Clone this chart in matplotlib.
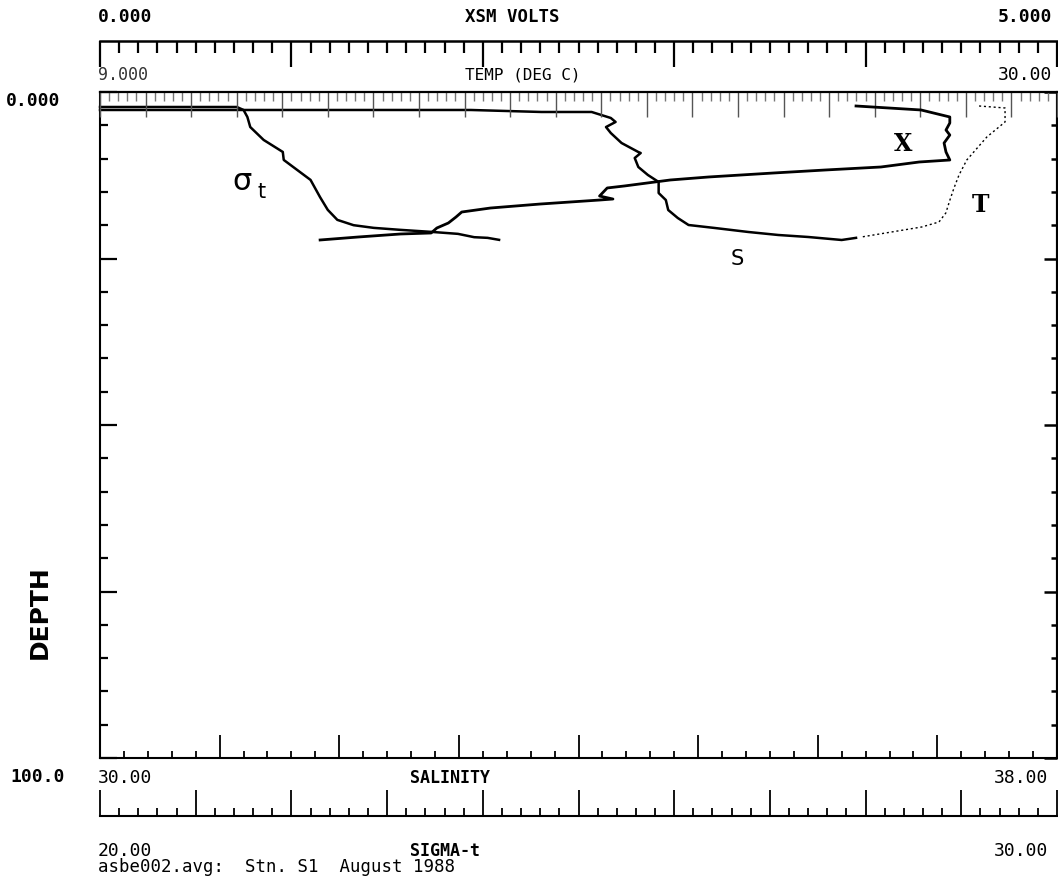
#ctd profile plot: xsm volts, temperature, salinity and sigma-t against depth
import matplotlib
matplotlib.use("Agg")
import matplotlib.pyplot as plt
from matplotlib.ticker import MultipleLocator

# sigma-t profile
sigma_depth = [2.25, 2.25, 2.7, 3.75, 5.26, 7.2, 9.0, 10.2, 11.7, 13.2, 15.8, 17.7,
               19.2, 20.0, 20.4, 20.7, 21.0, 21.3, 21.8, 21.9, 22.2]
sigma_t = [20.00, 21.43, 21.50, 21.54, 21.57, 21.71, 21.91, 21.92, 22.06, 22.20, 22.30, 22.38,
           22.48, 22.65, 22.86, 23.14, 23.46, 23.74, 23.91, 24.05, 24.17]

# salinity profile
sal_depth = [2.7, 2.7, 3.0, 3.0, 3.9, 4.5, 5.26, 6.16, 7.66, 9.01, 9.16, 9.91, 11.26, 12.46,
             13.51, 15.17, 16.22, 17.72, 18.92, 19.97, 20.42, 21.02, 21.47, 21.77, 22.22, 21.9]
salinity = [30.00, 33.10, 33.69, 34.11, 34.27, 34.31, 34.23, 34.27, 34.36, 34.50, 34.52, 34.47,
            34.50, 34.58, 34.67, 34.67, 34.73, 34.75, 34.83, 34.92, 35.14, 35.42, 35.67, 35.92,
            36.20, 36.32]

# temperature profile
temp_depth = [2.10, 2.40, 4.50, 6.76, 10.21, 12.46, 14.41, 16.22, 18.17, 19.52, 20.27, 21.02, 21.77]
temperature = [28.29, 28.86, 28.86, 28.46, 28.02, 27.85, 27.74, 27.65, 27.56, 27.41, 27.03,
               26.37, 25.71]

# xsm volts profile
volt_depth = [2.10, 2.70, 3.75, 4.65, 5.71, 6.46, 7.66, 9.01, 10.21, 10.51, 11.26, 11.71, 12.16,
              12.76, 13.21, 13.66, 14.11, 14.41, 15.62, 16.07, 16.22, 16.82, 17.42, 18.02, 18.77,
              19.67, 20.42, 21.17, 21.32, 21.77, 22.22]
xsm_volts = [3.95, 4.29, 4.44, 4.44, 4.42, 4.44, 4.41, 4.42, 4.44, 4.28, 4.08, 3.79, 3.52,
             3.18, 2.98, 2.86, 2.74, 2.65, 2.61, 2.68, 2.61, 2.30, 2.04, 1.89, 1.86,
             1.82, 1.76, 1.73, 1.57, 1.35, 1.15]

# axis ranges and end labels
depth_range = (0.0, 100.0)
volt_range = (0.0, 5.0)
temp_range = (9.0, 30.0)
sal_range = (30.0, 38.0)
sigma_range = (20.0, 30.0)

W, H = 1058, 877
PT = 0.72  # points per pixel at 100 dpi


def px(x, y):
    return x / W, 1 - y / H


fig = plt.figure(figsize=(W / 100, H / 100), dpi=100)
fig.patch.set_facecolor("white")

left, right, top, bottom = 100, 1057, 92, 758
ax = fig.add_axes([left / W, 1 - bottom / H, (right - left) / W, (bottom - top) / H])

# depth axis (shared by all)
ax.set_ylim(depth_range[1], depth_range[0])
ax.yaxis.set_major_locator(MultipleLocator(25))
ax.yaxis.set_minor_locator(MultipleLocator(5))
ax.tick_params(axis="y", which="major", direction="in", length=17 * PT, width=1.6,
               left=True, right=False, labelleft=False)
ax.tick_params(axis="y", which="minor", direction="in", length=8 * PT, width=1.6,
               left=True, right=False)
right_ax = ax.secondary_yaxis("right")
right_ax.yaxis.set_major_locator(MultipleLocator(25))
right_ax.yaxis.set_minor_locator(MultipleLocator(5))
right_ax.tick_params(which="major", direction="in", length=13 * PT, width=1.8, labelright=False)
right_ax.tick_params(which="minor", direction="in", length=6 * PT, width=1.8)
right_ax.spines["right"].set_linewidth(1.5)

# salinity on the bottom frame
ax.set_xlim(*sal_range)
ax.xaxis.set_major_locator(MultipleLocator(1))
ax.xaxis.set_minor_locator(MultipleLocator(0.2))
ax.tick_params(axis="x", which="major", direction="in", length=23 * PT, width=1.3,
               bottom=True, top=False, labelbottom=False)
ax.tick_params(axis="x", which="minor", direction="in", length=7 * PT, width=1.3,
               bottom=True, top=False)
ax.spines["top"].set_visible(False)
for s in ["left", "bottom", "right"]:
    ax.spines[s].set_linewidth(1.5)

# sigma-t axis below the frame
ax_sig = ax.twiny()
ax_sig.set_xlim(*sigma_range)
ax_sig.xaxis.set_ticks_position("bottom")
ax_sig.xaxis.set_major_locator(MultipleLocator(1))
ax_sig.xaxis.set_minor_locator(MultipleLocator(0.2))
ax_sig.tick_params(axis="x", which="major", direction="in", length=26 * PT, width=1.3,
                   labelbottom=False, labeltop=False)
ax_sig.tick_params(axis="x", which="minor", direction="in", length=8 * PT, width=1.3)
for s in ["left", "right", "top"]:
    ax_sig.spines[s].set_visible(False)
ax_sig.spines["bottom"].set_visible(True)
ax_sig.spines["bottom"].set_position(("outward", 58 * PT))
ax_sig.spines["bottom"].set_linewidth(1.5)

# temperature axis on top of the frame
ax_temp = ax.twiny()
ax_temp.set_xlim(*temp_range)
ax_temp.xaxis.set_major_locator(MultipleLocator(1))
ax_temp.xaxis.set_minor_locator(MultipleLocator(0.2))
ax_temp.tick_params(axis="x", which="major", direction="in", length=25 * PT, width=1.0,
                    color="#555555", labeltop=False)
ax_temp.tick_params(axis="x", which="minor", direction="in", length=9 * PT, width=1.0,
                    color="#777777")
for s in ["left", "right", "bottom"]:
    ax_temp.spines[s].set_visible(False)
ax_temp.spines["top"].set_linewidth(1.6)

# xsm volts axis above
ax_volt = ax.twiny()
ax_volt.set_xlim(*volt_range)
ax_volt.xaxis.set_major_locator(MultipleLocator(1))
ax_volt.xaxis.set_minor_locator(MultipleLocator(0.1))
ax_volt.tick_params(axis="x", which="major", direction="in", length=26 * PT, width=1.6,
                    labeltop=False)
ax_volt.tick_params(axis="x", which="minor", direction="in", length=12 * PT, width=1.6)
for s in ["left", "right", "bottom"]:
    ax_volt.spines[s].set_visible(False)
ax_volt.spines["top"].set_position(("outward", 51 * PT))
ax_volt.spines["top"].set_linewidth(1.8)

# profiles
ax_sig.plot(sigma_t, sigma_depth, color="black", lw=1.8, clip_on=False)
ax.plot(salinity, sal_depth, color="black", lw=1.8, clip_on=False)
ax_temp.plot(temperature, temp_depth, color="black", lw=1.0, ls=(0, (1.5, 2)), clip_on=False)
ax_volt.plot(xsm_volts, volt_depth, color="black", lw=2.0, clip_on=False)

# curve labels
fig.text(*px(242, 182), "σ", fontsize=22, family="DejaVu Sans", ha="center", va="center")
fig.text(*px(262, 192), "t", fontsize=15, family="DejaVu Sans", ha="center", va="center")
fig.text(*px(903, 144), "X", fontsize=17, fontweight="bold", family="DejaVu Serif",
         ha="center", va="center")
fig.text(*px(980, 205), "T", fontsize=17, fontweight="bold", family="DejaVu Serif",
         ha="center", va="center")
fig.text(*px(737, 259), "S", fontsize=15, family="DejaVu Sans", ha="center", va="center")

# axis end labels
mono = "DejaVu Sans Mono"
fig.text(*px(98, 17), "%.3f" % volt_range[0], fontsize=13, fontweight="bold", family=mono,
         ha="left", va="center")
fig.text(*px(465, 17), "XSM VOLTS", fontsize=12.5, fontweight="bold", family=mono,
         ha="left", va="center")
fig.text(*px(1052, 17), "%.3f" % volt_range[1], fontsize=13, fontweight="bold", family=mono,
         ha="right", va="center")
fig.text(*px(98, 75), "%.3f" % temp_range[0], fontsize=12, family=mono, color="#333333",
         ha="left", va="center")
fig.text(*px(465, 75), "TEMP (DEG C)", fontsize=11.5, family=mono, ha="left", va="center")
fig.text(*px(1052, 75), "%.2f" % temp_range[1], fontsize=13, family=mono,
         ha="right", va="center")
fig.text(*px(6, 101), "%.3f" % depth_range[0], fontsize=13, fontweight="bold", family=mono,
         ha="left", va="center")
fig.text(*px(10, 777), "%.1f" % depth_range[1], fontsize=13, fontweight="bold", family=mono,
         ha="left", va="center")
fig.text(*px(40, 612), "DEPTH", fontsize=18, fontweight="bold", family="DejaVu Sans",
         rotation=90, ha="center", va="center")
fig.text(*px(98, 778), "%.2f" % sal_range[0], fontsize=13, family=mono, ha="left", va="center")
fig.text(*px(410, 778), "SALINITY", fontsize=12, family=mono, fontweight="bold",
         ha="left", va="center")
fig.text(*px(1048, 778), "%.2f" % sal_range[1], fontsize=13, family=mono,
         ha="right", va="center")
fig.text(*px(98, 851), "%.2f" % sigma_range[0], fontsize=13, family=mono,
         ha="left", va="center")
fig.text(*px(410, 851), "SIGMA-t", fontsize=12, family=mono, fontweight="bold",
         ha="left", va="center")
fig.text(*px(1048, 851), "%.2f" % sigma_range[1], fontsize=13, family=mono,
         ha="right", va="center")
fig.text(*px(98, 867), "asbe002.avg:  Stn. S1  August 1988", fontsize=12.5, family=mono,
         ha="left", va="center")

fig.savefig("out.png", dpi=100, facecolor="white")
